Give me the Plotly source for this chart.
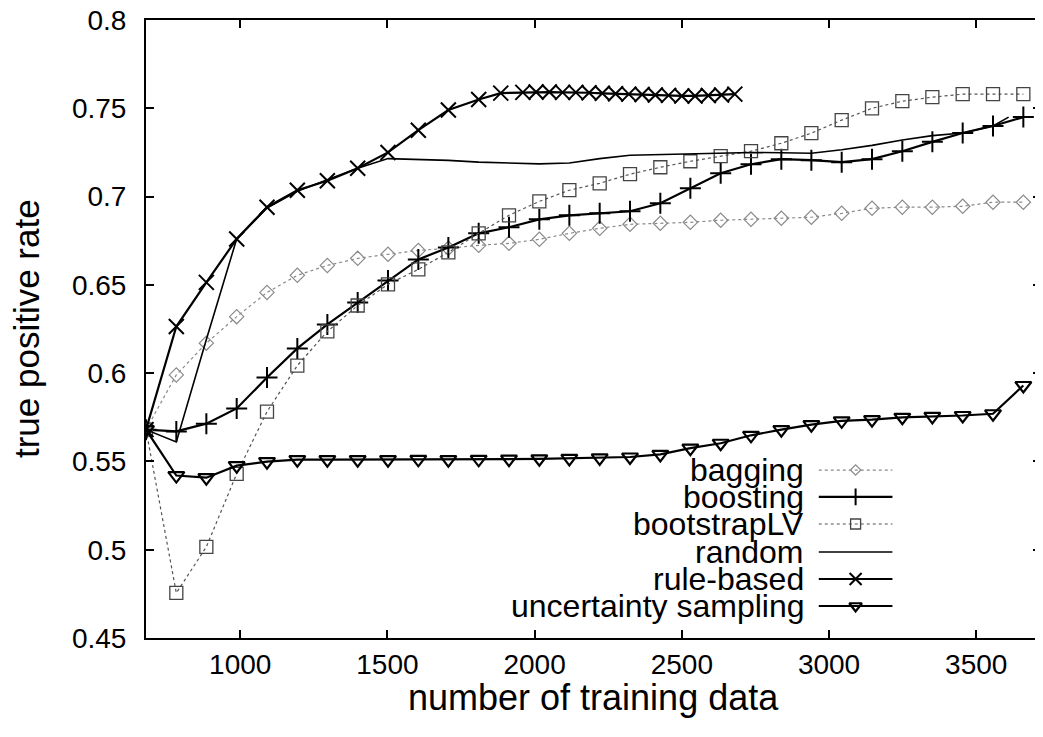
import plotly.graph_objects as go

# ---------------- data ----------------
x_grid = [680, 783, 885, 988, 1091, 1194, 1296, 1399, 1502, 1605, 1707, 1810, 1913, 2016, 2118,
          2221, 2324, 2427, 2529, 2632, 2735, 2838, 2940, 3043, 3146, 3249, 3351, 3454, 3557, 3660]

bagging = [0.568, 0.599, 0.617, 0.632, 0.6457, 0.6554, 0.661, 0.665, 0.6673, 0.6695, 0.6707, 0.6724,
           0.6735, 0.6758, 0.6792, 0.682, 0.6843, 0.6849, 0.6854, 0.6866, 0.6871, 0.6877, 0.6883,
           0.6905, 0.6934, 0.694, 0.694, 0.6945, 0.6968, 0.6968]

boosting = [0.568, 0.567, 0.5714, 0.580, 0.5975, 0.614, 0.6276, 0.640, 0.6525, 0.6644, 0.6712, 0.6792,
            0.6826, 0.6871, 0.6894, 0.6905, 0.6917, 0.6962, 0.7047, 0.7132, 0.7183, 0.7212, 0.7206,
            0.7195, 0.7212, 0.7257, 0.731, 0.736, 0.740, 0.745]

bootstrapLV = [0.568, 0.4755, 0.5016, 0.543, 0.5782, 0.6043, 0.6236, 0.6383, 0.6503, 0.6588, 0.6684,
               0.6792, 0.6894, 0.6973, 0.7036, 0.7075, 0.7127, 0.7166, 0.72, 0.7229, 0.7257, 0.7302,
               0.7359, 0.7433, 0.75, 0.754, 0.7563, 0.758, 0.758, 0.758]

random_x = [680, 783, 885, 988, 1091, 1194, 1296, 1399, 1502, 1605, 1707, 1810, 1913, 2016, 2118,
            2221, 2324, 2427, 2529, 2632, 2735, 2838, 2940, 3043, 3146, 3249, 3351, 3454, 3557, 3610]
random_y = [0.568, 0.561, 0.619, 0.676, 0.6935, 0.703, 0.7095, 0.716, 0.7215, 0.721, 0.7205, 0.7195,
            0.719, 0.7185, 0.719, 0.7215, 0.7234, 0.7238, 0.724, 0.7245, 0.725, 0.7248, 0.7245,
            0.7265, 0.729, 0.732, 0.7345, 0.736, 0.740, 0.745]

rule_x = [680, 783, 885, 988, 1091, 1194, 1296, 1399, 1502, 1605, 1707, 1810, 1885, 1960,
          2005, 2050, 2095, 2140, 2185, 2230, 2275, 2320, 2365, 2410, 2455, 2500, 2545, 2590, 2635, 2680]
rule_y = [0.568, 0.6264, 0.6514, 0.676, 0.694, 0.7036, 0.709, 0.716, 0.725, 0.7376, 0.749, 0.755,
          0.7586, 0.759, 0.7592, 0.7592, 0.759, 0.759, 0.7588, 0.7585, 0.7582, 0.758, 0.7578,
          0.7575, 0.7573, 0.757, 0.757, 0.7572, 0.7575, 0.758]

uncertainty = [0.568, 0.542, 0.5408, 0.5476, 0.5499, 0.551, 0.551, 0.551, 0.551, 0.5512, 0.551,
               0.5512, 0.5513, 0.5515, 0.5517, 0.552, 0.5525, 0.554, 0.5575, 0.5603, 0.5648, 0.568,
               0.5708, 0.573, 0.5737, 0.575, 0.5755, 0.576, 0.577, 0.593]

legend_labels = ["bagging", "boosting", "bootstrapLV", "random", "rule-based", "uncertainty sampling"]

x_ticks = [1000, 1500, 2000, 2500, 3000, 3500]
y_ticks = [0.45, 0.5, 0.55, 0.6, 0.65, 0.7, 0.75, 0.8]
y_tick_text = ["0.45", "0.5", "0.55", "0.6", "0.65", "0.7", "0.75", "0.8"]

# ---------------- styles ----------------
FONT = "Liberation Sans, Arial, sans-serif"
styles = {
    "bagging": dict(line=dict(color="#8a8a8a", width=1.2, dash="dot"),
                    marker=dict(symbol="diamond-open", size=11, color="#8a8a8a", line=dict(width=1.2, color="#8a8a8a"))),
    "boosting": dict(line=dict(color="black", width=2.2),
                     marker=dict(symbol="cross-thin-open", size=15, color="black", line=dict(width=2, color="black"))),
    "bootstrapLV": dict(line=dict(color="#555555", width=1.2, dash="dot"),
                        marker=dict(symbol="square-open", size=13, color="#444444", line=dict(width=1.3, color="#444444"))),
    "random": dict(line=dict(color="black", width=1.6), marker=dict(size=1)),
    "rule-based": dict(line=dict(color="black", width=2.2),
                       marker=dict(symbol="x-thin-open", size=15, color="black", line=dict(width=2, color="black"))),
    "uncertainty sampling": dict(line=dict(color="black", width=2.2),
                                 marker=dict(symbol="triangle-down-open", size=14, color="black", line=dict(width=2.2, color="black"))),
}

series = [
    ("bagging", x_grid, bagging, "lines+markers"),
    ("boosting", x_grid, boosting, "lines+markers"),
    ("bootstrapLV", x_grid, bootstrapLV, "lines+markers"),
    ("random", random_x, random_y, "lines"),
    ("rule-based", rule_x, rule_y, "lines+markers"),
    ("uncertainty sampling", x_grid, uncertainty, "lines+markers"),
]

fig = go.Figure()
for name, xs, ys, mode in series:
    st = styles[name]
    kw = dict(x=xs, y=ys, mode=mode, name=name, showlegend=False, line=st["line"])
    if mode != "lines":
        kw["marker"] = st["marker"]
    fig.add_trace(go.Scatter(**kw))

# ---------------- custom legend (text left, sample right) ----------------
row_y = [0.2718, 0.2282, 0.1845, 0.1392, 0.0955, 0.0518]
sx0, sx1 = 0.7517, 0.834
for lab, ry in zip(legend_labels, row_y):
    st = styles[lab]
    fig.add_trace(go.Scatter(x=[sx0, sx1], y=[ry, ry], mode="lines", xaxis="x2", yaxis="y2",
                             line=st["line"], showlegend=False, hoverinfo="skip"))
    if lab != "random":
        fig.add_trace(go.Scatter(x=[(sx0 + sx1) / 2], y=[ry], mode="markers", xaxis="x2", yaxis="y2",
                                 marker=st["marker"] | dict(size=st["marker"]["size"] - 3),
                                 showlegend=False, hoverinfo="skip"))
    fig.add_annotation(x=0.737, y=ry, xref="paper", yref="paper", text=lab, showarrow=False,
                       xanchor="right", yanchor="middle", font=dict(family=FONT, size=32, color="black"))

fig.add_annotation(x=0.5, y=-0.097, xref="paper", yref="paper", text="number of training data",
                   showarrow=False, xanchor="center", yanchor="middle",
                   font=dict(family=FONT, size=36, color="black"))
fig.add_annotation(x=-0.134, y=0.5, xref="paper", yref="paper", text="true positive rate",
                   showarrow=False, textangle=-90, xanchor="center", yanchor="middle",
                   font=dict(family=FONT, size=35, color="black"))

axis_common = dict(showgrid=False, zeroline=False, showline=True, linecolor="black", linewidth=2,
                   mirror="ticks", ticks="inside", ticklen=8, tickwidth=1.5, tickcolor="black",
                   ticklabeloverflow="allow", automargin=False,
                   tickfont=dict(family=FONT, size=28, color="black"))

fig.update_layout(
    width=1043, height=737,
    margin=dict(l=138, r=10, t=12, b=107, autoexpand=False),
    paper_bgcolor="white", plot_bgcolor="white",
    xaxis=dict(range=[680, 3720], tickvals=x_ticks, ticktext=[str(v) for v in x_ticks],
               ticklabelstandoff=0, **axis_common),
    yaxis=dict(range=[0.45, 0.8], tickvals=y_ticks, ticktext=y_tick_text,
               ticklabelstandoff=12, **axis_common),
    xaxis2=dict(overlaying="x", range=[0, 1], visible=False),
    yaxis2=dict(overlaying="y", range=[0, 1], visible=False),
    showlegend=False,
)

fig.write_html("out.html")
